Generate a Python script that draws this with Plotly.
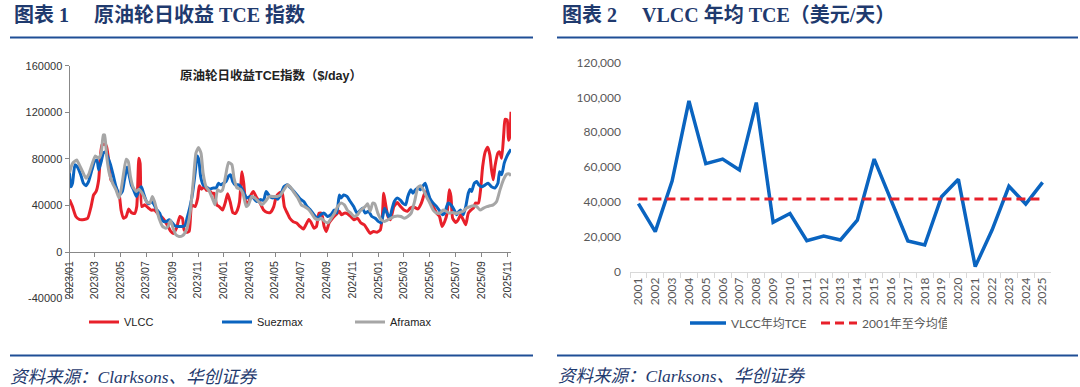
import plotly.graph_objects as go
import pandas as pd

# ---------------- data: left chart (daily TCE, $/day) ----------------
base_date = "2023-01-01"

vlcc_days = [0, 7, 15, 23, 35, 43, 51, 57, 63, 69, 73, 77, 85, 88, 94, 98, 106, 112, 118, 122,
             128, 134, 140, 146, 154, 159, 164, 167, 171, 178, 186, 193, 201, 209, 217, 225, 233, 239, 245, 253,
             261, 267, 271, 277, 283, 289, 297, 303, 307, 312, 318, 324, 331, 336, 342, 348, 354, 362, 368, 374,
             380, 386, 392, 397, 402, 408, 412, 417, 423, 429, 435, 442, 450, 459, 467, 475, 483, 489, 497, 503,
             508, 515, 521, 529, 537, 545, 553, 559, 566, 572, 578, 584, 590, 596, 602, 607, 614, 622, 630, 638,
             643, 650, 657, 665, 673, 681, 689, 697, 705, 711, 719, 727, 735, 740, 743, 747, 753, 759, 767, 775,
             783, 791, 799, 806, 814, 824, 832, 840, 845, 852, 860, 868, 875, 881, 887, 893, 898, 902, 906, 913,
             919, 925, 931, 937, 943, 949, 955, 960, 967, 972, 977, 983, 989, 994, 998, 1002, 1006, 1013, 1017, 1022,
             1027, 1030, 1035, 1038, 1041, 1044]
vlcc_vals = [45000, 39000, 30500, 28000, 28000, 29000, 39000, 49000, 52000, 62000, 82000, 92000, 92500, 90000, 75000, 62000, 59000, 53000, 48000, 36000,
             29000, 30500, 37000, 34000, 33000, 39000, 80500, 76000, 39000, 40500, 38000, 36000, 36000, 33000, 30500, 27000, 22000, 18000, 16000, 20500,
             30500, 29000, 19000, 17000, 17700, 40500, 39000, 46000, 57000, 54000, 56000, 53000, 53000, 50500, 50500, 40500, 39000, 36000, 42000, 50000,
             43000, 34000, 33000, 36000, 43000, 69000, 59000, 43000, 42500, 49000, 52000, 47000, 42500, 36000, 34000, 34000, 39000, 47700, 51000, 50500,
             39000, 33400, 29000, 26000, 25000, 22000, 19700, 23400, 28000, 25000, 20500, 22000, 33400, 33400, 22000, 17700, 25000, 29000, 32000, 35000,
             32000, 33400, 33000, 30500, 27700, 29000, 25000, 23400, 19000, 16000, 17700, 17000, 19000, 32000, 50500, 42000, 30500, 27700, 39000, 42500,
             39000, 36000, 35000, 37700, 38600, 37000, 42000, 50500, 52000, 45000, 39000, 33400, 30500, 22000, 26000, 33400, 53400, 47700, 29000, 25400,
             27700, 32000, 27700, 23400, 33400, 36000, 37700, 42000, 42000, 53400, 73400, 86000, 90000, 83400, 70500, 62000, 73400, 85000, 86000, 80500,
             102000, 114000, 113400, 96000, 99000, 120500]

suez_days = [0, 3, 7, 13, 19, 27, 33, 39, 45, 53, 59, 65, 69, 75, 80, 85, 90, 97, 104, 110,
             118, 125, 130, 136, 140, 146, 152, 158, 163, 170, 175, 182, 188, 193, 199, 205, 213, 220, 228, 236,
             241, 249, 257, 265, 273, 278, 285, 291, 297, 302, 306, 310, 316, 324, 332, 340, 347, 352, 358, 364,
             370, 376, 381, 386, 392, 400, 405, 411, 419, 427, 435, 443, 451, 459, 465, 473, 481, 487, 492, 499,
             507, 515, 523, 531, 538, 546, 554, 562, 570, 578, 586, 594, 602, 610, 618, 626, 632, 638, 642, 648,
             656, 664, 672, 680, 688, 693, 699, 707, 715, 723, 730, 737, 745, 751, 757, 762, 768, 775, 783, 788,
             795, 800, 807, 812, 818, 824, 830, 836, 841, 846, 852, 860, 868, 876, 882, 887, 895, 902, 910, 915,
             921, 925, 931, 937, 943, 947, 951, 957, 963, 968, 975, 983, 990, 998, 1006, 1013, 1017, 1022, 1028, 1034,
             1040, 1044]
suez_vals = [67700, 56000, 59000, 75000, 73000, 66000, 59000, 57000, 60500, 70500, 77700, 79000, 70500, 77700, 85000, 86000, 82000, 75000, 65000, 56000,
             49000, 52000, 62000, 73000, 67700, 57700, 53000, 47700, 52000, 56000, 50500, 43400, 41400, 43400, 41400, 37000, 33400, 27000, 26000, 27700,
             26000, 22600, 22000, 22000, 22600, 29000, 39000, 50500, 67700, 82500, 79000, 65000, 57700, 55700, 54000, 55000, 55000, 59000, 57700, 59000,
             60500, 65000, 66300, 60500, 57700, 57700, 56000, 52000, 46300, 47700, 46300, 43400, 45000, 44300, 52000, 48000, 46300, 47700, 45400, 49000,
             56000, 57700, 55000, 52000, 49000, 45400, 43400, 39000, 36000, 32000, 29000, 32000, 33400, 30500, 32000, 36000, 33400, 49000, 46300, 49000,
             47700, 43400, 39000, 33400, 36000, 37700, 33400, 35000, 30500, 29000, 26300, 25000, 37700, 33400, 29000, 36000, 43400, 46300, 44300, 42000,
             40500, 47700, 53400, 50500, 53400, 55000, 53400, 57000, 59000, 53400, 46300, 42000, 39000, 35000, 32000, 33400, 42000, 40500, 36000, 32000,
             35000, 36000, 32000, 39000, 50500, 54000, 52000, 59000, 60500, 57700, 56000, 57700, 59000, 56000, 55000, 59000, 69000, 66300, 76300, 82000,
             86000, 88300]

afra_days = [0, 7, 17, 23, 31, 39, 45, 53, 61, 69, 75, 80, 83, 88, 94, 102, 110, 117, 122, 128,
             134, 139, 144, 150, 158, 164, 172, 182, 190, 196, 201, 207, 213, 220, 228, 233, 239, 245, 251, 259,
             267, 274, 281, 286, 293, 299, 305, 311, 316, 323, 331, 339, 344, 350, 356, 362, 369, 376, 384, 389,
             396, 404, 410, 418, 423, 431, 439, 447, 455, 463, 473, 483, 491, 499, 508, 516, 524, 532, 540, 548,
             556, 564, 572, 580, 588, 596, 603, 611, 619, 627, 634, 642, 650, 657, 665, 673, 681, 689, 699, 705,
             711, 717, 722, 729, 737, 745, 753, 760, 768, 776, 784, 792, 800, 808, 816, 824, 830, 836, 844, 852,
             860, 868, 876, 883, 891, 899, 907, 915, 923, 931, 939, 947, 955, 963, 971, 979, 987, 994, 1002, 1010,
             1018, 1026, 1034, 1040, 1044]
afra_vals = [68000, 76000, 79000, 75000, 69000, 63400, 66300, 75000, 82500, 80500, 85000, 100500, 100500, 82000, 67700, 59000, 53400, 46300, 53400, 67700,
             79700, 77700, 65000, 56000, 52000, 54000, 50500, 43400, 42000, 47700, 43400, 35000, 27700, 22000, 20500, 22000, 27000, 20500, 15000, 13400,
             14000, 17000, 25000, 36000, 62000, 85000, 89700, 85000, 67700, 56000, 52000, 45000, 40500, 53400, 52000, 53400, 65000, 76900, 75000, 63400,
             55000, 54000, 50500, 39000, 40500, 47700, 46300, 43400, 40500, 43400, 47700, 47700, 47700, 49000, 54000, 57700, 55000, 50500, 46300, 40500,
             39000, 37000, 33400, 29000, 27700, 29000, 26300, 25000, 29000, 33400, 39000, 42000, 40500, 36000, 33400, 30500, 32000, 36000, 39000, 41400,
             35000, 42000, 41400, 33400, 27700, 26300, 27700, 29000, 30500, 31000, 30500, 29000, 30500, 33400, 43400, 55700, 57000, 54000, 47700, 42000,
             36000, 33400, 33400, 36000, 35000, 33400, 34000, 33000, 34000, 35000, 37700, 39000, 39700, 39000, 36000, 37700, 39000, 39700, 40500, 43400,
             53400, 62000, 66900, 67000, 65400]

left_ytick_vals = [-40000, 0, 40000, 80000, 120000, 160000]
left_ytick_text = ["-40000", "0", "40000", "80000", "120000", "160000"]

# ---------------- data: right chart (VLCC annual TCE, $/day) ----------------
years = [str(y) for y in range(2001, 2026)]
vlcc_annual = [39000, 23000, 52000, 98000, 62000, 64600, 58300, 97000, 28300, 33400,
               17800, 20500, 18200, 29600, 64600, 41000, 17600, 15300, 43000, 53000,
               2900, 23900, 49000, 38800, 51200]
avg_since_2001 = 41700

# ---------------- helpers ----------------
W, H = 1080, 387
def px(x):
    return x / W
def py(y):
    return 1 - y / H

t0 = pd.Timestamp(base_date)
def to_dates(days):
    return [t0 + pd.Timedelta(days=d) for d in days]

LAT = "Liberation Sans, Arial, Noto Sans CJK SC"
CAL = "Lato, Noto Sans CJK SC"
SERIF = "Liberation Serif, Times New Roman, Noto Sans CJK SC"
NAVY = "#1F3A6E"

fig = go.Figure()
fig.add_trace(go.Scatter(x=to_dates(vlcc_days), y=vlcc_vals, name="VLCC", mode="lines",
                         line=dict(color="#E8202A", width=3, shape="spline", smoothing=0.5),
                         xaxis="x", yaxis="y", legend="legend"))
fig.add_trace(go.Scatter(x=to_dates(suez_days), y=suez_vals, name="Suezmax", mode="lines",
                         line=dict(color="#0A64C0", width=3, shape="spline", smoothing=0.5),
                         xaxis="x", yaxis="y", legend="legend"))
fig.add_trace(go.Scatter(x=to_dates(afra_days), y=afra_vals, name="Aframax", mode="lines",
                         line=dict(color="#A6A6A6", width=3, shape="spline", smoothing=0.5),
                         xaxis="x", yaxis="y", legend="legend"))

fig.add_trace(go.Scatter(x=years, y=vlcc_annual, name="VLCC年均TCE", mode="lines",
                         line=dict(color="#0A64C0", width=3.5),
                         xaxis="x2", yaxis="y2", legend="legend2"))
fig.add_trace(go.Scatter(x=years, y=[avg_since_2001] * len(years), name="2001年至今均值", mode="lines",
                         line=dict(color="#E8202A", width=3, dash="9px,5px"),
                         xaxis="x2", yaxis="y2", legend="legend2"))

left_tickfont = dict(family=LAT, size=11, color="#333333")
right_tickfont = dict(family=CAL, size=12, color="#595959")

fig.update_layout(
    width=W, height=H, margin=dict(l=0, r=0, t=0, b=0, autoexpand=False),
    paper_bgcolor="white", plot_bgcolor="rgba(0,0,0,0)",
    xaxis=dict(domain=[px(69.5), px(511)], anchor="free", position=py(252), type="date",
               range=["2023-01-01", "2025-11-10"], tickformat="%Y/%m", dtick="M2", tick0="2023-01-01",
               tickangle=-90, ticks="outside", ticklen=4, tickcolor="#888888", automargin=False,
               showline=True, linecolor="#888888", linewidth=1, showgrid=False, zeroline=False,
               tickfont=dict(family=LAT, size=10.5, color="#333333")),
    yaxis=dict(domain=[py(298.6), py(65.7)], anchor="x", range=[-40000, 160000],
               tickvals=left_ytick_vals, ticktext=left_ytick_text, automargin=False,
               ticks="outside", ticklen=4, tickcolor="#888888",
               showline=True, linecolor="#888888", linewidth=1, showgrid=False, zeroline=False,
               tickfont=left_tickfont),
    xaxis2=dict(domain=[px(630), px(1051)], anchor="y2", type="category", range=[-0.5, 24.5],
                tickson="boundaries", ticks="outside", ticklen=5, tickcolor="#D9D9D9", automargin=False,
                showline=True, linecolor="#D9D9D9", linewidth=1, tickangle=-90, showgrid=False,
                zeroline=False, tickfont=right_tickfont),
    yaxis2=dict(domain=[py(271.7), py(62.5)], anchor="x2", range=[0, 120000], dtick=20000,
                tickformat=",", showline=False, showgrid=False, zeroline=False, ticks="", automargin=False,
                ticklabelstandoff=8, tickfont=right_tickfont),
    legend=dict(orientation="h", x=px(84), y=py(322), xanchor="left", yanchor="middle",
                entrywidth=88, entrywidthmode="pixels", itemwidth=30,
                font=dict(family=LAT, size=11, color="#222222"), bgcolor="rgba(0,0,0,0)"),
    legend2=dict(orientation="h", x=px(685), y=py(323), xanchor="left", yanchor="middle",
                 entrywidth=80, entrywidthmode="pixels", itemwidth=36,
                 font=dict(family=CAL, size=12, color="#595959"), bgcolor="rgba(0,0,0,0)"),
)

annotations = [
    dict(text="<b>图表 1　&nbsp;原油轮日收益 TCE 指数</b>", x=px(12), y=py(15), xanchor="left", yanchor="middle",
         font=dict(family=SERIF, size=20, color=NAVY)),
    dict(text="<b>图表 2　&nbsp;VLCC 年均 TCE（美元/天）</b>", x=px(560), y=py(15), xanchor="left", yanchor="middle",
         font=dict(family=SERIF, size=20, color=NAVY)),
    dict(text="<b>原油轮日收益TCE指数（$/day）</b>", x=px(271), y=py(75), xanchor="center", yanchor="middle",
         font=dict(family=LAT, size=12.5, color="#222222")),
    dict(text="<i>资料来源：Clarksons、华创证券</i>", x=px(8), y=py(377), xanchor="left", yanchor="middle",
         font=dict(family=SERIF, size=17.5, color=NAVY)),
    dict(text="<i>资料来源：Clarksons、华创证券</i>", x=px(556), y=py(376), xanchor="left", yanchor="middle",
         font=dict(family=SERIF, size=17.5, color=NAVY)),
]
for a in annotations:
    a.update(xref="paper", yref="paper", showarrow=False)
fig.update_layout(annotations=annotations)

line_color = "#1F4E96"
shapes = []
for (x0, x1) in [(10, 533), (557, 1078)]:
    for yy in [37.5, 355.5]:
        shapes.append(dict(type="line", xref="paper", yref="paper", x0=px(x0), x1=px(x1),
                           y0=py(yy), y1=py(yy), line=dict(color=line_color, width=2)))
fig.update_layout(shapes=shapes)

fig.write_html("out.html", config={"displayModeBar": False},
               post_script="document.body.style.margin='0';document.body.style.overflow='hidden';")
